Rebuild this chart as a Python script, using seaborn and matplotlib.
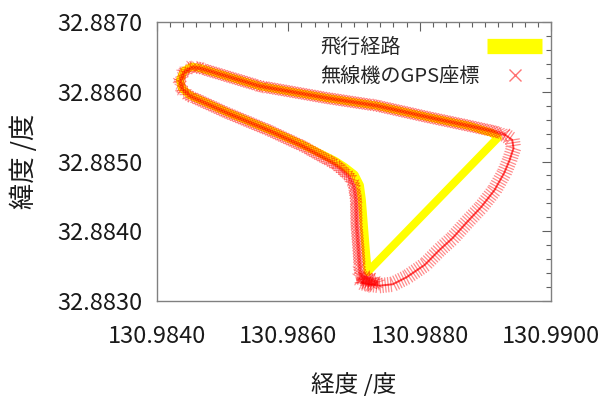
import matplotlib
matplotlib.use("Agg")
import matplotlib.pyplot as plt
import matplotlib.patheffects as pe
from matplotlib.lines import Line2D
from matplotlib.ticker import MultipleLocator, FormatStrFormatter
import seaborn as sns
import pandas as pd

# ---- data ----
flight_lon = [130.98721, 130.98718, 130.98715, 130.98712, 130.98709, 130.98701,
              130.98686, 130.98671, 130.98622, 130.98572, 130.98506, 130.98450,
              130.98438, 130.98435, 130.98441, 130.98453, 130.98465, 130.98557,
              130.98659, 130.98735, 130.98811, 130.98876, 130.98910, 130.98919,
              130.98721]
flight_lat = [32.88342, 32.88373, 32.88409, 32.88445, 32.88466, 32.88481,
              32.88492, 32.88501, 32.88524, 32.88545, 32.88571, 32.88595,
              32.88605, 32.88617, 32.88630, 32.88636, 32.88634, 32.88608,
              32.88591, 32.88580, 32.88564, 32.88551, 32.88541, 32.88534,
              32.88342]

gps_lon = [130.98706, 130.98718, 130.98712, 130.98727, 130.98721, 130.98736,
           130.98724, 130.98712, 130.98709, 130.98707, 130.98704, 130.98703,
           130.98700, 130.98692, 130.98678, 130.98666, 130.98622, 130.98572,
           130.98506, 130.98450, 130.98438, 130.98435, 130.98441, 130.98453,
           130.98465, 130.98557, 130.98659, 130.98735, 130.98811, 130.98876,
           130.98910, 130.98929, 130.98941, 130.98943, 130.98937, 130.98929,
           130.98914, 130.98894, 130.98872, 130.98850, 130.98830, 130.98808,
           130.98780, 130.98759, 130.98739, 130.98724, 130.98712]
gps_lat = [32.88332, 32.88334, 32.88326, 32.88330, 32.88323, 32.88326,
           32.88332, 32.88333, 32.88344, 32.88373, 32.88409, 32.88445,
           32.88465, 32.88479, 32.88491, 32.88499, 32.88522, 32.88544,
           32.88570, 32.88594, 32.88604, 32.88615, 32.88628, 32.88635,
           32.88634, 32.88608, 32.88591, 32.88580, 32.88564, 32.88551,
           32.88544, 32.88539, 32.88531, 32.88519, 32.88502, 32.88484,
           32.88459, 32.88435, 32.88413, 32.88390, 32.88373, 32.88352,
           32.88334, 32.88324, 32.88322, 32.88324, 32.88326]
gps_turn = 31  # index of the north-east corner of the GPS track

series_labels = ["飛行経路", "無線機のGPS座標"]
x_label = "経度 /度"
y_label = "緯度 /度"
x_lim = (130.9840, 130.9900)
y_lim = (32.8830, 32.8870)

# ---- style ----
sns.set_style("white")
plt.rcParams["font.family"] = ["Noto Sans CJK JP", "DejaVu Sans"]

fig = plt.figure(figsize=(6.04, 3.96), dpi=100)
ax = fig.add_axes([0.2599, 0.2399, 0.6523, 0.7045])

flight_df = pd.DataFrame({"lon": flight_lon, "lat": flight_lat})
sns.lineplot(data=flight_df, x="lon", y="lat", sort=False, estimator=None,
             color="#ffff00", linewidth=5.8, ax=ax)
ax.lines[-1].set_solid_joinstyle("round")
ax.lines[-1].set_solid_capstyle("round")

red = "#ff0000"
gps_a = pd.DataFrame({"lon": gps_lon[:gps_turn + 1], "lat": gps_lat[:gps_turn + 1]})
gps_b = pd.DataFrame({"lon": gps_lon[gps_turn:], "lat": gps_lat[gps_turn:]})

sns.lineplot(data=gps_a, x="lon", y="lat", sort=False, estimator=None,
             color=red, linewidth=1.2, ax=ax)
ax.lines[-1].set_path_effects(
    [pe.Stroke(linewidth=2.6, alpha=0.45)] +
    [pe.TickedStroke(spacing=2.1, angle=a, length=2.7, linewidth=0.9, alpha=0.4)
     for a in (45, 135, -45, -135)])

sns.lineplot(data=gps_b, x="lon", y="lat", sort=False, estimator=None,
             color=red, linewidth=1.2, ax=ax)
ax.lines[-1].set_path_effects(
    [pe.Stroke(linewidth=1.4, alpha=0.7)] +
    [pe.TickedStroke(spacing=2.0, angle=a, length=2.6, linewidth=0.9, alpha=0.45)
     for a in (90, -90)])

ax.set_xlim(*x_lim)
ax.set_ylim(*y_lim)
ax.xaxis.set_major_locator(MultipleLocator(0.002))
ax.xaxis.set_minor_locator(MultipleLocator(0.0002))
ax.yaxis.set_major_locator(MultipleLocator(0.001))
ax.yaxis.set_minor_locator(MultipleLocator(0.0002))
ax.xaxis.set_major_formatter(FormatStrFormatter("%.4f"))
ax.yaxis.set_major_formatter(FormatStrFormatter("%.4f"))

for s in ax.spines.values():
    s.set_color("#808080")
    s.set_linewidth(1.0)
ax.tick_params(which="both", direction="in", top=True, right=True,
               color="#606060", width=0.8)
ax.tick_params(which="major", length=6.5)
ax.tick_params(which="minor", length=3.6)
ax.tick_params(axis="y", which="major", labelsize=17, pad=10.5, labelcolor="#1a1a1a")
ax.tick_params(axis="x", which="major", labelsize=17, pad=17, labelcolor="#1a1a1a")

ax.set_xlabel(x_label, fontsize=17, labelpad=18, color="#1a1a1a")
ax.set_ylabel(y_label, fontsize=19, labelpad=14, color="#1a1a1a")

leg_fs = 14.5
leg_pad = 0.4
handles = [Line2D([], [], color="#ffff00", linewidth=11, solid_capstyle="butt"),
           Line2D([], [], color=red, linestyle="none", marker="x",
                  markersize=8, markeredgewidth=1.0, alpha=0.55)]
leg = ax.legend(handles, series_labels, loc="upper right",
                bbox_to_anchor=(1.015, 1.0), frameon=False,
                markerfirst=False, fontsize=leg_fs, handlelength=2.7,
                handletextpad=leg_pad, labelspacing=0.4, borderaxespad=0.0,
                borderpad=0.75)

# left-align the label texts while keeping the samples on the right
renderer = fig.canvas.get_renderer()
widths = [t.get_window_extent(renderer).width for t in leg.get_texts()]
wmax = max(widths)
column = leg._legend_handle_box.get_children()[0]
for row, w in zip(column.get_children(), widths):
    row.sep = leg_pad * leg_fs + (wmax - w) * 72.0 / fig.dpi

fig.savefig("out.png", dpi=100)
